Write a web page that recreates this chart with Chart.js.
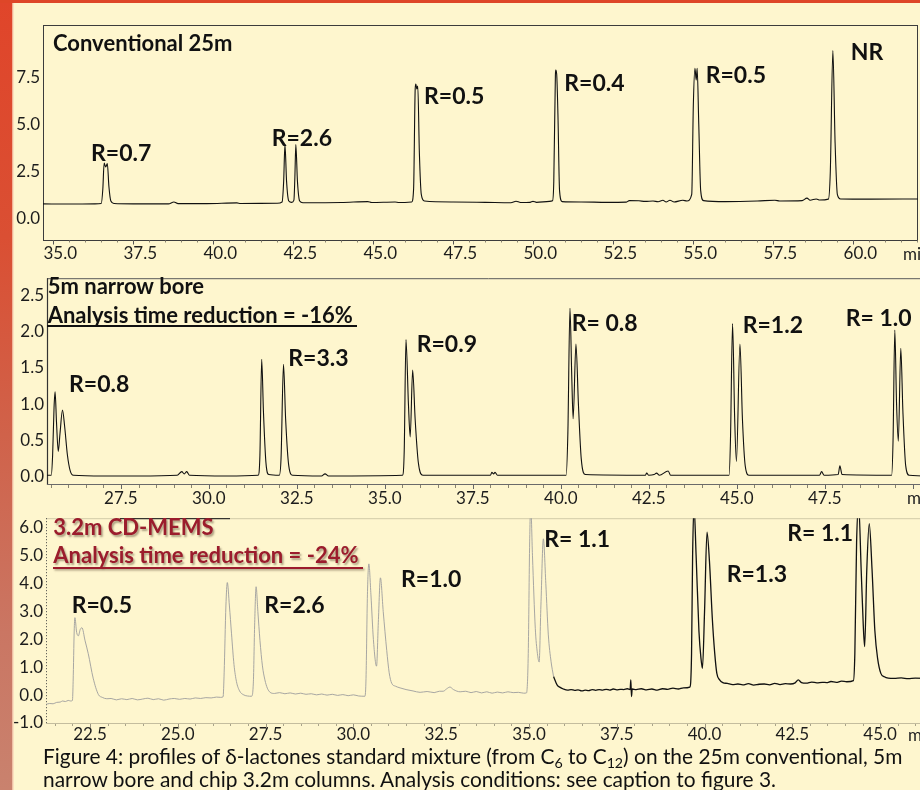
<!DOCTYPE html>
<html>
<head>
<meta charset="utf-8">
<script src="https://cdn.jsdelivr.net/npm/chart.js@4.4.1/dist/chart.umd.min.js"></script>
<style>
  html, body { margin: 0; padding: 0; width: 920px; height: 790px; overflow: hidden; background: #fef6ce; }
  #bandLeft { position: absolute; left: 0; top: 0; width: 13px; height: 790px;
    background: linear-gradient(to bottom, #e0452a 0%, #da4f33 30%, #d0624a 55%, #ca7663 80%, #c9826e 100%); }
  #bandEdge { position: absolute; left: 12px; top: 0; width: 2px; height: 790px; background: rgba(250, 215, 185, 0.75); }
  #bandTop { position: absolute; left: 0; top: 0; width: 920px; height: 3px; background: #de4628; }
  canvas { position: absolute; left: 0; }
  #caption { position: absolute; left: 43px; top: 744px; font: 20.9px Lato, "Open Sans", sans-serif; line-height: 23px;
    color: #111; white-space: nowrap; z-index: 5; }
  #caption sub { font-size: 0.68em; vertical-align: -0.3em; line-height: 0; }
</style>
</head>
<body>
<div id="bandLeft"></div>
<div id="bandEdge"></div>
<div id="bandTop"></div>
<canvas id="conv" width="920" height="265" style="top:0px"></canvas>
<canvas id="narrow" width="930" height="250" style="top:265px"></canvas>
<canvas id="mems" width="930" height="250" style="top:505px"></canvas>
<div id="caption">Figure 4: profiles of δ-lactones standard mixture (from C<sub>6</sub> to C<sub>12</sub>) on the 25m conventional, 5m<br>narrow bore and chip 3.2m columns. Analysis conditions: see caption to figure 3.</div>

<script>
// ---- Retention time (min) / detector signal, 25 m conventional column ----
const conv25Time = [34.68, 35.5, 36.3, 36.5, 36.55, 36.59, 36.64, 36.69, 36.74, 36.8, 36.9, 37.5, 38.6, 38.77, 38.9,
  39.8, 40.74, 40.85, 42.0, 42.15, 42.2, 42.24, 42.29, 42.36, 42.45, 42.52, 42.55, 42.58, 42.63, 42.7, 42.8,
  44.0, 44.83, 44.95, 45.68, 45.8, 46.2, 46.26, 46.31, 46.33, 46.36, 46.39, 46.44, 46.5, 46.6, 47.5, 48.5,
  49.3, 49.46, 49.6, 49.9, 49.99, 50.1, 50.5, 50.6, 50.64, 50.69, 50.70, 50.73, 50.77, 50.82, 50.9, 51.5,
  52.3, 52.9, 53.0, 53.3, 53.5, 53.74, 53.9, 54.05, 54.15, 54.27, 54.4, 54.67, 54.8, 54.95, 55.0, 55.05,
  55.09, 55.12, 55.17, 55.23, 55.32, 56.0, 57.0, 57.55, 57.7, 58.4, 58.55, 58.65, 58.84, 58.95, 59.22,
  59.28, 59.36, 59.43, 59.5, 59.6, 60.5, 62.02];
const conv25Signal = [0.80, 0.79, 0.80, 0.82, 1.6, 2.95, 2.75, 2.93, 1.7, 0.95, 0.82, 0.80, 0.80, 0.90, 0.81,
  0.81, 0.85, 0.82, 0.83, 0.90, 2.0, 3.95, 2.0, 0.95, 0.88, 1.0, 2.2, 3.93, 2.0, 0.95, 0.86,
  0.87, 0.92, 0.87, 0.90, 0.87, 0.90, 1.6, 6.9, 7.13, 6.87, 7.03, 3.5, 1.3, 0.95, 0.90, 0.88,
  0.86, 0.94, 0.87, 0.88, 0.93, 0.88, 0.93, 0.96, 2.0, 7.6, 7.87, 7.66, 5.5, 1.5, 0.92, 0.90,
  0.88, 0.89, 0.97, 0.96, 0.93, 0.95, 0.91, 0.99, 0.90, 0.99, 0.90, 0.99, 0.95, 1.3, 6.0, 7.96,
  7.35, 7.96, 5.0, 1.5, 0.97, 0.92, 0.95, 0.99, 0.95, 0.97, 1.10, 0.99, 1.06, 1.00, 1.05,
  2.5, 8.9, 4.0, 1.3, 1.06, 1.05, 1.06];
const conv25XTicks = [35, 37.5, 40, 42.5, 45, 47.5, 50, 52.5, 55, 57.5, 60];
const conv25YTicks = [0, 2.5, 5, 7.5];
const conv25Notes = ['Conventional 25m', 'R=0.7', 'R=2.6', 'R=0.5', 'R=0.4', 'R=0.5', 'NR'];

// ---- 5 m narrow bore column ----
const nb5Time = [25.40, 25.52, 25.56, 25.60, 25.63, 25.67, 25.72, 25.77, 25.84, 25.90, 25.98, 26.06, 26.15, 27.0,
  28.0, 29.1, 29.23, 29.3, 29.37, 29.45, 30.5, 31.40, 31.45, 31.50, 31.55, 31.62, 31.7, 32.0, 32.05, 32.12,
  32.18, 32.27, 32.38, 33.2, 33.3, 33.4, 35.5, 35.55, 35.60, 35.67, 35.72, 35.79, 35.86, 35.95, 36.08,
  38.0, 38.04, 38.09, 38.13, 38.2, 40.15, 40.2, 40.26, 40.31, 40.35, 40.43, 40.5, 40.58, 40.7, 42.4,
  42.44, 42.5, 42.65, 42.72, 42.8, 43.05, 43.12, 44.78, 44.82, 44.88, 44.94, 44.99, 45.09, 45.16, 45.24,
  45.35, 47.35, 47.41, 47.48, 47.88, 47.93, 47.99, 49.4, 49.44, 49.49, 49.54, 49.59, 49.66, 49.72,
  49.8, 49.9, 50.5];
const nb5Signal = [0.02, 0.02, 0.3, 0.95, 1.17, 0.75, 0.35, 0.6, 0.92, 0.7, 0.3, 0.08, 0.02, 0.01,
  0.01, 0.02, 0.07, 0.04, 0.07, 0.02, 0.01, 0.02, 0.3, 1.62, 0.9, 0.2, 0.03, 0.02, 0.25, 1.55,
  0.8, 0.15, 0.02, 0.01, 0.04, 0.01, 0.02, 0.35, 1.89, 1.0, 0.55, 1.47, 0.8, 0.2, 0.02,
  0.02, 0.06, 0.04, 0.06, 0.02, 0.02, 0.6, 2.32, 1.4, 0.8, 1.83, 1.0, 0.25, 0.03, 0.02,
  0.05, 0.02, 0.03, 0.05, 0.02, 0.08, 0.02, 0.02, 0.5, 2.11, 0.8, 0.21, 1.83, 0.8, 0.15,
  0.02, 0.02, 0.07, 0.02, 0.03, 0.15, 0.03, 0.02, 0.5, 2.02, 1.0, 0.49, 1.77, 0.9,
  0.15, 0.02, 0.01];
const nb5XTicks = [27.5, 30, 32.5, 35, 37.5, 40, 42.5, 45, 47.5];
const nb5YTicks = [0, 0.5, 1, 1.5, 2, 2.5];
const nb5Notes = ['5m narrow bore', 'Analysis time reduction = -16%', 'R=0.8', 'R=3.3', 'R=0.9', 'R= 0.8', 'R=1.2', 'R= 1.0'];

// ---- 3.2 m CD-MEMS chip: first part of the run ----
const memsTimeEarly = [21.25, 21.35, 21.45, 21.55, 21.65, 21.72, 21.8, 21.88, 21.95, 22.00, 22.02, 22.05, 22.07,
  22.12, 22.17, 22.22, 22.27, 22.36, 22.45, 22.59, 22.74, 22.85, 22.98, 23.1, 23.25, 23.4, 23.55, 23.7,
  23.85, 24.0, 24.15, 24.3, 24.45, 24.6, 24.75, 24.9, 25.05, 25.2, 25.35, 25.5, 25.65, 25.8, 25.95,
  26.1, 26.22, 26.29, 26.32, 26.37, 26.41, 26.47, 26.53, 26.6, 26.67, 26.76, 26.86, 26.98, 27.1, 27.15,
  27.19, 27.23, 27.28, 27.34, 27.41, 27.48, 27.55, 27.63, 27.75, 27.9, 28.05, 28.2, 28.35, 28.5, 28.65,
  28.8, 28.95, 29.1, 29.25, 29.4, 29.55, 29.7, 29.85, 30.0, 30.15, 30.33, 30.36, 30.4, 30.44, 30.5,
  30.57, 30.66, 30.71, 30.77, 30.85, 30.95, 31.02, 31.09, 31.2, 31.33, 31.5, 31.7, 31.9, 32.1, 32.3,
  32.45, 32.56, 32.65, 32.75, 32.85, 33.04, 33.2, 33.35, 33.5, 33.65, 33.8, 33.95, 34.1, 34.25, 34.4,
  34.55, 34.7, 34.85, 34.93, 34.98, 35.02, 35.05, 35.1, 35.18, 35.24, 35.29, 35.34, 35.41, 35.48,
  35.55, 35.63, 35.7];
const memsSignalEarly = [-0.33, -0.30, -0.31, -0.26, -0.25, -0.21, -0.23, -0.19, -0.21, -0.19, 0.5, 2.3, 2.78,
  2.25, 2.13, 2.35, 2.42, 1.95, 1.49, 0.61, 0.02, -0.08, -0.13, -0.12, -0.17, -0.13, -0.16, -0.12,
  -0.17, -0.14, -0.11, -0.16, -0.13, -0.18, -0.14, -0.12, -0.15, -0.12, -0.14, -0.10, -0.12, -0.09, -0.10,
  -0.07, -0.08, -0.06, 0.8, 3.2, 4.04, 3.2, 2.2, 1.1, 0.49, 0.15, 0.02, -0.03, -0.04, 0.4,
  2.6, 3.89, 3.0, 1.96, 1.05, 0.55, 0.25, 0.10, 0.06, 0.09, 0.05, 0.08, 0.04, 0.07, 0.03,
  0.05, 0.01, 0.04, 0.00, 0.03, -0.01, 0.02, -0.02, 0.01, -0.03, -0.04, 0.6, 3.6, 4.71, 3.6,
  2.0, 1.04, 2.6, 4.21, 3.0, 1.6, 0.8, 0.43, 0.32, 0.26, 0.20, 0.15, 0.10, 0.13, 0.09,
  0.14, 0.14, 0.22, 0.29, 0.20, 0.12, 0.14, 0.09, 0.13, 0.08, 0.12, 0.07, 0.11, 0.08, 0.12,
  0.09, 0.10, 0.07, 0.08, 1.5, 5.5, 6.8, 5.0, 2.4, 1.5, 1.19, 3.2, 5.61, 4.0,
  2.19, 1.2, 0.67];

// ---- 3.2 m CD-MEMS chip: second part of the run ----
const memsTimeLate = [35.7, 35.8, 35.9, 35.98, 36.1, 36.2, 36.3, 36.4, 36.5, 36.6, 36.7, 36.8, 36.9, 37.0, 37.1,
  37.2, 37.3, 37.4, 37.5, 37.6, 37.7, 37.8, 37.88, 37.9, 37.92, 37.94, 38.05, 38.2, 38.35, 38.5, 38.65,
  38.8, 38.95, 39.1, 39.25, 39.4, 39.58, 39.63, 39.66, 39.7, 39.76, 39.84, 39.9, 39.94, 40.0, 40.07,
  40.14, 40.22, 40.29, 40.35, 40.43, 40.52, 40.65, 40.8, 40.95, 41.09, 41.25, 41.4, 41.55, 41.7, 41.85,
  42.0, 42.15, 42.3, 42.45, 42.58, 42.67, 42.76, 42.9, 43.05, 43.2, 43.35, 43.48, 43.6, 43.75, 43.9,
  44.05, 44.24, 44.28, 44.33, 44.39, 44.46, 44.52, 44.56, 44.62, 44.69, 44.77, 44.85, 44.93, 45.02,
  45.12, 45.23, 45.4, 45.6, 45.8, 46.0, 46.42];
const memsSignalLate = [0.67, 0.37, 0.27, 0.22, 0.18, 0.20, 0.17, 0.19, 0.15, 0.18, 0.16, 0.20, 0.17, 0.20, 0.18,
  0.21, 0.18, 0.22, 0.19, 0.21, 0.20, 0.23, 0.20, 0.55, -0.05, 0.22, 0.20, 0.23, 0.19, 0.22, 0.18,
  0.23, 0.21, 0.25, 0.22, 0.26, 0.29, 1.5, 5.0, 6.8, 5.0, 2.3, 1.3, 0.96, 3.0, 5.85,
  4.8, 2.78, 1.5, 0.78, 0.55, 0.45, 0.42, 0.38, 0.40, 0.37, 0.41, 0.36, 0.39, 0.40, 0.37,
  0.42, 0.38, 0.41, 0.40, 0.44, 0.55, 0.45, 0.43, 0.47, 0.44, 0.46, 0.45, 0.49, 0.46, 0.50,
  0.48, 0.52, 1.5, 5.5, 6.8, 4.5, 2.5, 1.74, 4.5, 6.15, 4.5, 2.31, 1.3, 0.78,
  0.66, 0.61, 0.60, 0.62, 0.59, 0.61, 0.60];
const memsXTicks = [22.5, 25, 27.5, 30, 32.5, 35, 37.5, 40, 42.5, 45];
const memsYTicks = [-1, 0, 1, 2, 3, 4, 5, 6];
const memsNotes = ['3.2m CD-MEMS', 'Analysis time reduction = -24%', 'R=0.5', 'R=2.6', 'R=1.0', 'R= 1.1', 'R=1.3', 'R= 1.1'];

const unitLabel = 'min';

// ---------------------------------------------------------------------------
const FONT = 'Lato, "Open Sans", sans-serif';
const TITLE_FONT = 'bold 22px ' + FONT;
const R_FONT = 'bold 23px ' + FONT;
const TICK_FONT = { family: 'Lato, "Open Sans", sans-serif', size: 17 };
const MEMS_RED = '#9b1c2c';

const toPoints = (t, s) => t.map((x, i) => ({ x: x, y: s[i] }));

function line(ctx, x1, y1, x2, y2, color, width, dash) {
  ctx.save();
  ctx.strokeStyle = color;
  ctx.lineWidth = width || 1;
  if (dash) ctx.setLineDash(dash);
  ctx.beginPath();
  ctx.moveTo(x1, y1);
  ctx.lineTo(x2, y2);
  ctx.stroke();
  ctx.restore();
}

// small tick marks hanging below the time axis
function timeTicks(ctx, scale, y, step, len, color) {
  ctx.save();
  ctx.strokeStyle = color;
  ctx.lineWidth = 1;
  ctx.beginPath();
  for (let v = Math.ceil(scale.min / step) * step; v <= scale.max + 1e-9; v += step) {
    const px = Math.round(scale.getPixelForValue(v)) + 0.5;
    ctx.moveTo(px, y);
    ctx.lineTo(px, y + len);
  }
  ctx.stroke();
  ctx.restore();
}

function makeDecor(id, frame, notes, unitPos) {
  return {
    id: id,
    beforeDatasetsDraw(chart) {
      frame(chart.ctx, chart.chartArea, chart.scales);
    },
    afterDraw(chart) {
      const ctx = chart.ctx;
      notes.forEach(n => {
        ctx.save();
        ctx.font = n.font;
        ctx.fillStyle = n.color || '#111';
        ctx.textAlign = 'left';
        ctx.textBaseline = 'alphabetic';
        if (n.shadow) {
          ctx.shadowColor = 'rgba(70, 50, 30, 0.45)';
          ctx.shadowOffsetX = 1.5;
          ctx.shadowOffsetY = 1.5;
          ctx.shadowBlur = 2;
        }
        ctx.fillText(n.text, n.x, n.y);
        if (n.underline) {
          ctx.fillRect(n.underline[0], n.underline[2], n.underline[1] - n.underline[0], 2);
        }
        ctx.restore();
      });
      ctx.save();
      ctx.font = '17px ' + FONT;
      ctx.fillStyle = '#222';
      ctx.textBaseline = 'alphabetic';
      ctx.fillText(unitLabel, unitPos[0], unitPos[1]);
      ctx.restore();
    }
  };
}

function makeChart(canvasId, spec) {
  const ticksFrom = arr => scale => { scale.ticks = arr.map(v => ({ value: v })); };
  return new Chart(document.getElementById(canvasId), {
    type: 'line',
    data: { datasets: spec.datasets },
    options: {
      responsive: false,
      animation: false,
      devicePixelRatio: 1,
      layout: { padding: spec.padding },
      elements: { point: { radius: 0 }, line: { cubicInterpolationMode: 'monotone' } },
      plugins: { legend: { display: false }, tooltip: { enabled: false } },
      scales: {
        x: {
          type: 'linear', min: spec.x[0], max: spec.x[1],
          grid: { display: false, drawTicks: false }, border: { display: false },
          ticks: { font: TICK_FONT, color: '#1c1c1c', padding: spec.xPad, labelOffset: spec.xLabelOffset || 0,
                   maxRotation: 0, autoSkip: false, callback: v => v.toFixed(1) },
          afterBuildTicks: ticksFrom(spec.xTicks),
          afterFit: s => { s.height = spec.xh; }
        },
        y: {
          type: 'linear', min: spec.y[0], max: spec.y[1],
          grid: { display: false, drawTicks: false }, border: { display: false },
          ticks: { font: TICK_FONT, color: '#1c1c1c', padding: 3, autoSkip: false, callback: v => v.toFixed(1) },
          afterBuildTicks: ticksFrom(spec.yTicks),
          afterFit: s => { s.width = spec.yw; }
        }
      }
    },
    plugins: [makeDecor(canvasId + 'Decor', spec.frame, spec.notes, spec.unitPos)]
  });
}

// ---- 25 m conventional ----
makeChart('conv', {
  datasets: [{ data: toPoints(conv25Time, conv25Signal), borderColor: '#111', borderWidth: 1.1 }],
  padding: { left: 0, top: 25, right: 2, bottom: 0 },
  yw: 43, xh: 25, xPad: 3, xLabelOffset: 7,
  x: [34.68, 62.02], y: [-1.11, 10.25],
  xTicks: conv25XTicks, yTicks: conv25YTicks,
  unitPos: [903, 260],
  frame(ctx, a, s) {
    ctx.save();
    ctx.strokeStyle = '#3c3c3c';
    ctx.lineWidth = 1;
    ctx.strokeRect(a.left + 0.5, a.top + 0.5, a.right - a.left - 1, a.bottom - a.top);
    ctx.restore();
    timeTicks(ctx, s.x, a.bottom + 0.5, 0.5, 2, '#8a8470');
    timeTicks(ctx, s.x, a.bottom + 0.5, 2.5, 4, '#555');
  },
  notes: [
    { text: conv25Notes[0], x: 53, y: 51, font: TITLE_FONT },
    { text: conv25Notes[1], x: 91, y: 160.7, font: R_FONT },
    { text: conv25Notes[2], x: 271.7, y: 146, font: R_FONT },
    { text: conv25Notes[3], x: 424, y: 104, font: R_FONT },
    { text: conv25Notes[4], x: 564.3, y: 90.7, font: R_FONT },
    { text: conv25Notes[5], x: 705.7, y: 83.3, font: R_FONT },
    { text: conv25Notes[6], x: 850.7, y: 60, font: R_FONT }
  ]
});

// ---- 5 m narrow bore ----
makeChart('narrow', {
  datasets: [{ data: toPoints(nb5Time, nb5Signal), borderColor: '#111', borderWidth: 1.1 }],
  padding: { left: 0, top: 12, right: 0, bottom: 10 },
  yw: 47, xh: 21, xPad: 4,
  x: [25.40, 50.49], y: [-0.10, 2.736],
  xTicks: nb5XTicks, yTicks: nb5YTicks,
  unitPos: [907, 239],
  frame(ctx, a, s) {
    line(ctx, a.left, a.top + 0.5, a.right, a.top + 0.5, '#5a5a5a', 1);
    line(ctx, a.left + 0.5, a.top, a.left + 0.5, a.bottom + 1, '#333', 1.2);
    line(ctx, a.left, a.bottom + 0.5, a.right, a.bottom + 0.5, '#6a6a6a', 1.2);
    timeTicks(ctx, s.x, a.bottom + 1, 0.5, 3, '#8a8470');
    timeTicks(ctx, s.x, a.bottom + 1, 2.5, 4, '#666');
  },
  notes: [
    { text: nb5Notes[0], x: 47.7, y: 29.3, font: TITLE_FONT },
    { text: nb5Notes[1], x: 47.7, y: 58.3, font: TITLE_FONT, underline: [47, 357, 60] },
    { text: nb5Notes[2], x: 69, y: 126.7, font: R_FONT },
    { text: nb5Notes[3], x: 288.3, y: 101, font: R_FONT },
    { text: nb5Notes[4], x: 416.7, y: 86.7, font: R_FONT },
    { text: nb5Notes[5], x: 571.7, y: 65.7, font: R_FONT },
    { text: nb5Notes[6], x: 742.7, y: 68.3, font: R_FONT },
    { text: nb5Notes[7], x: 845.7, y: 61, font: R_FONT }
  ]
});

// ---- 3.2 m CD-MEMS ----
makeChart('mems', {
  datasets: [
    { data: toPoints(memsTimeEarly, memsSignalEarly), borderColor: '#9d9d9d', borderWidth: 0.9 },
    { data: toPoints(memsTimeLate, memsSignalLate), borderColor: '#111', borderWidth: 1.3 }
  ],
  padding: { left: 0, top: 10, right: 0, bottom: 0 },
  yw: 46, xh: 32, xPad: 1,
  x: [21.247, 46.42], y: [-1.0, 6.35],
  xTicks: memsXTicks, yTicks: memsYTicks,
  unitPos: [908, 236],
  frame(ctx, a, s) {
    line(ctx, a.left, a.top + 0.5, a.right, a.top + 0.5, '#d2cba8', 1);
    line(ctx, 120, a.top + 0.5, 230, a.top + 0.5, '#111', 1);
    line(ctx, a.left + 0.5, a.top, a.left + 0.5, a.bottom, '#444', 1, [1, 2]);
    line(ctx, a.left, a.bottom + 0.5, a.right, a.bottom + 0.5, '#c4bd9e', 1);
    timeTicks(ctx, s.x, a.bottom + 1, 0.5, 2, '#aaa48a');
    timeTicks(ctx, s.x, a.bottom + 1, 2.5, 4, '#9a9480');
  },
  notes: [
    { text: memsNotes[0], x: 53.3, y: 30, font: TITLE_FONT, color: MEMS_RED, shadow: true },
    { text: memsNotes[1], x: 53.3, y: 58.3, font: TITLE_FONT, color: MEMS_RED, shadow: true, underline: [53, 363, 62] },
    { text: memsNotes[2], x: 71.7, y: 108.3, font: R_FONT },
    { text: memsNotes[3], x: 264.3, y: 108.3, font: R_FONT },
    { text: memsNotes[4], x: 401, y: 81.7, font: R_FONT },
    { text: memsNotes[5], x: 544.3, y: 41.7, font: R_FONT },
    { text: memsNotes[6], x: 726.7, y: 76.7, font: R_FONT },
    { text: memsNotes[7], x: 787.3, y: 35.7, font: R_FONT }
  ]
});
</script>
</body>
</html>
